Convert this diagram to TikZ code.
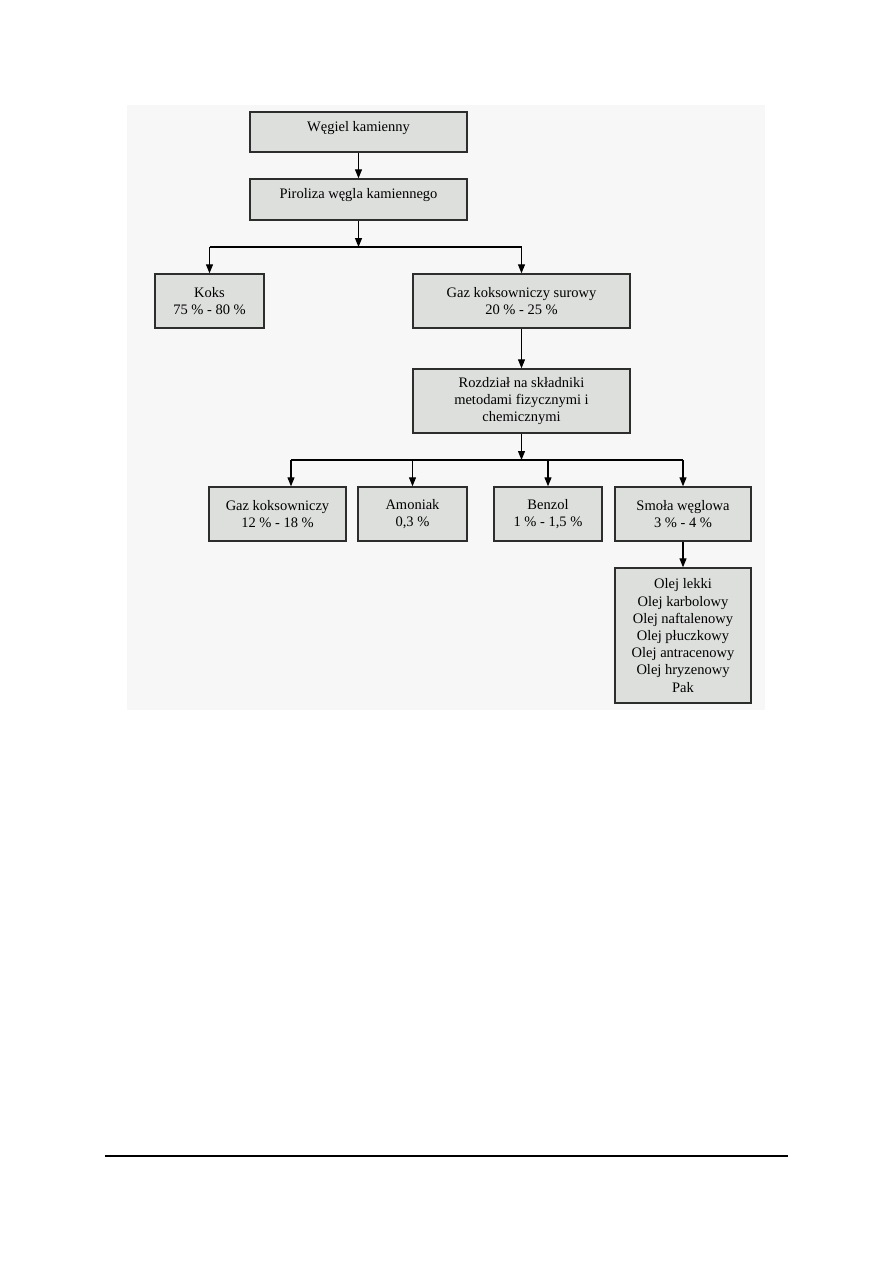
\documentclass[tikz,border=0pt]{standalone}
\usepackage{fontspec}
\setmainfont{Liberation Serif}
\usetikzlibrary{arrows.meta, positioning, calc}
\definecolor{boxfill}{RGB}{221,223,221}
\definecolor{panelfill}{RGB}{247,247,247}
\definecolor{boxline}{RGB}{45,45,45}
\begin{document}
\begin{tikzpicture}[x=1pt, y=-1pt,
    box/.style={draw=boxline, line width=1.4pt, fill=boxfill, align=center, inner sep=0pt, font=\fontsize{14.5}{17.2}\selectfont},
    onerow/.style={text height=10pt, text depth=12pt},
    arrow/.style={-{Triangle[width=7pt,length=9pt]}, line width=1.1pt},
    link/.style={line width=1.1pt}
]
    \useasboundingbox (0,0) rectangle (893,1263);
    \fill[panelfill] (127,105) rectangle (765,710);
    % top of the tree
    \node[box, onerow, minimum width=217pt, minimum height=40pt] (wegiel) at (358.5,132) {Węgiel kamienny};
    \node[box, onerow, minimum width=217pt, minimum height=41pt] (piroliza) at (358.5,199.5) {Piroliza węgla kamiennego};
    \node[box, minimum width=109pt, minimum height=54pt] (koks) at (209.5,301) {Koks\\75 \% - 80 \%};
    \node[box, minimum width=217pt, minimum height=54pt] (surowy) at (521.5,301) {Gaz koksowniczy surowy\\20 \% - 25 \%};
    \node[box, minimum width=217pt, minimum height=64pt] (rozdzial) at (521.5,401) {Rozdział na składniki\\metodami fizycznymi i\\chemicznymi};
    % products
    \node[box, minimum width=137pt, minimum height=54pt] (gazk) at (277.5,514) {Gaz koksowniczy\\12 \% - 18 \%};
    \node[box, minimum width=109pt, minimum height=54pt] (amoniak) at (412.5,514) {Amoniak\\0,3 \%};
    \node[box, minimum width=108pt, minimum height=54pt] (benzol) at (548,514) {Benzol\\1 \% - 1,5 \%};
    \node[box, minimum width=136pt, minimum height=54pt] (smola) at (683,514) {Smoła węglowa\\3 \% - 4 \%};
    \node[box, minimum width=136pt, minimum height=135pt] (oleje) at (683,635.5) {Olej lekki\\Olej karbolowy\\Olej naftalenowy\\Olej płuczkowy\\Olej antracenowy\\Olej hryzenowy\\Pak};
    % connectors
    \coordinate (split1) at (358.5,247);
    \coordinate (split2) at (521.5,460);
    \coordinate (drop1) at (291,460);
    \draw[arrow] (wegiel) -- (piroliza);
    \draw[arrow] (piroliza) -- (split1);
    \draw[link] (koks.north |- split1) -- (surowy.north |- split1);
    \draw[arrow] (koks.north |- split1) -- (koks.north);
    \draw[arrow] (surowy.north |- split1) -- (surowy.north);
    \draw[arrow] (surowy) -- (rozdzial);
    \draw[arrow] (rozdzial) -- (split2);
    \draw[link] (drop1) -- (smola.north |- split2);
    \draw[arrow] (drop1) -- (drop1 |- gazk.north);
    \foreach \n in {amoniak, benzol, smola}
        \draw[arrow] (\n.north |- split2) -- (\n.north);
    \draw[arrow] (smola) -- (oleje);
    % footer rule
    \draw[line width=1.5pt] (105,1156) -- (788,1156);
\end{tikzpicture}
\end{document}
